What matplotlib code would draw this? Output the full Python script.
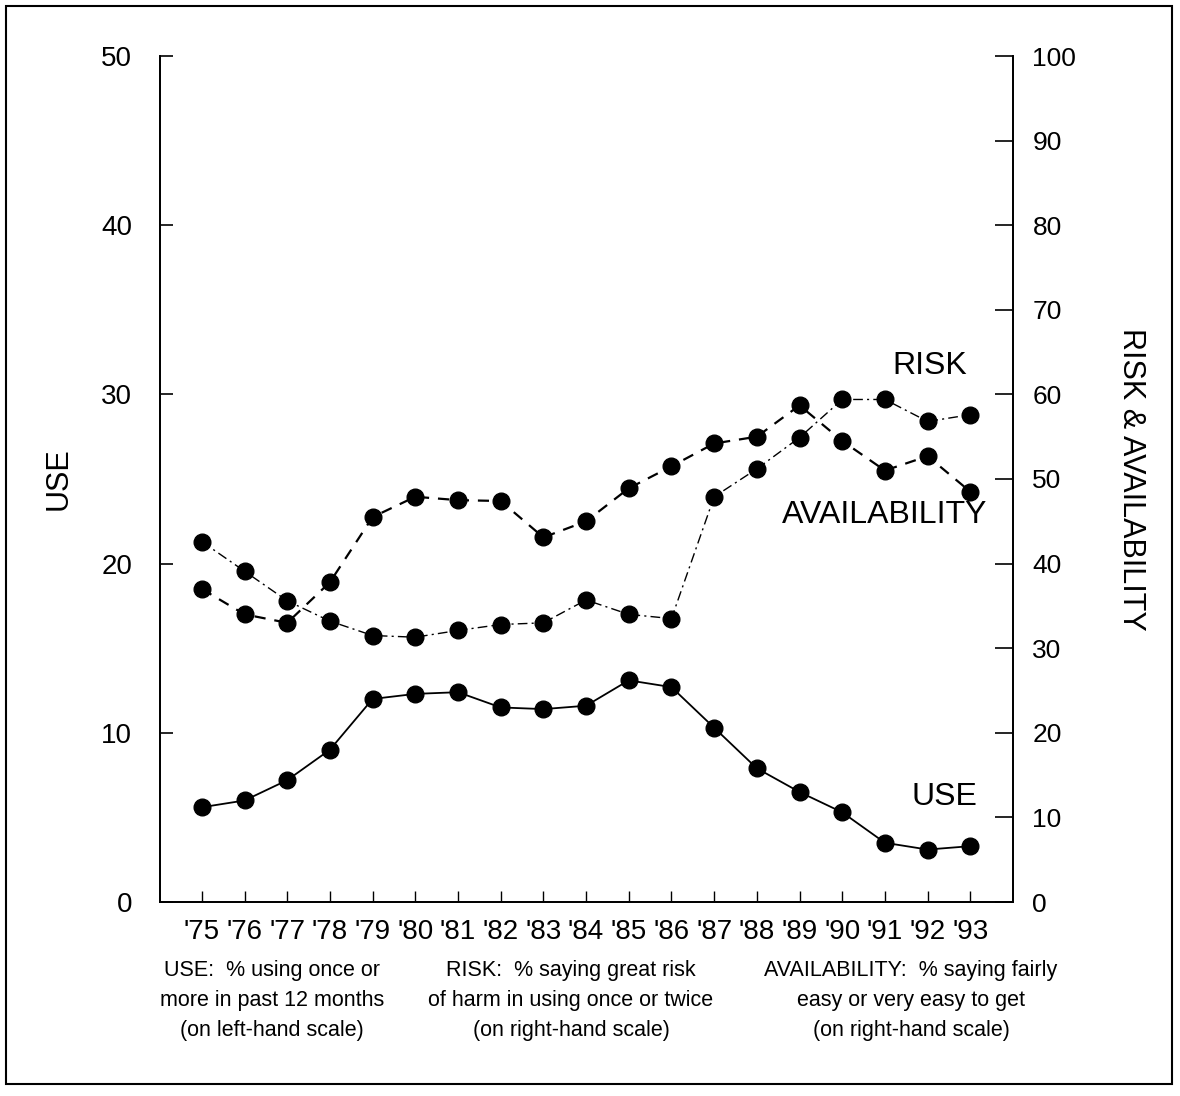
import matplotlib.pyplot as plt
from matplotlib.patches import Rectangle

plt.rcParams['font.family'] = ['Liberation Sans', 'DejaVu Sans']

# Data
years = list(range(1975, 1994))
year_labels = ["'75", "'76", "'77", "'78", "'79", "'80", "'81", "'82", "'83", "'84",
               "'85", "'86", "'87", "'88", "'89", "'90", "'91", "'92", "'93"]
use = [5.6, 6.0, 7.2, 9.0, 12.0, 12.3, 12.4, 11.5, 11.4, 11.6,
       13.1, 12.7, 10.3, 7.9, 6.5, 5.3, 3.5, 3.1, 3.3]
risk = [42.6, 39.1, 35.6, 33.2, 31.5, 31.3, 32.1, 32.8, 33.0, 35.7,
        34.0, 33.5, 47.9, 51.2, 54.9, 59.4, 59.4, 56.8, 57.6]
availability = [37.0, 34.0, 33.0, 37.8, 45.5, 47.9, 47.5, 47.4, 43.1, 45.0,
                48.9, 51.5, 54.2, 55.0, 58.7, 54.5, 51.0, 52.7, 48.5]

fig = plt.figure(figsize=(11.8, 10.96), dpi=100)
ax = fig.add_axes([160 / 1180, 1 - 902 / 1096, (1013 - 160) / 1180, (902 - 56) / 1096])
ax2 = ax.twinx()

# left scale: use
ax.plot(years, use, '-', color='black', lw=1.3, marker='o', ms=12)
# right scale: risk and availability
ax2.plot(years, risk, color='black', lw=1.0, ls=(0, (7, 3, 1.5, 3)), marker='o', ms=12)
ax2.plot(years, availability, color='black', lw=1.6, ls=(0, (5, 4)), marker='o', ms=12)

ax.set_xlim(1974.02, 1994.0)
ax.set_ylim(0, 50)
ax2.set_ylim(0, 100)
ax.set_xticks(years)
ax.set_xticklabels(year_labels, fontsize=20)
ax.set_yticks(range(0, 51, 10))
ax2.set_yticks(range(0, 101, 10))

ax.tick_params(axis='y', direction='in', length=9, width=1.2, labelsize=20, pad=20)
ax.tick_params(axis='x', direction='in', length=8, width=1.0, pad=12)
ax2.tick_params(axis='y', direction='in', length=13, width=1.2, labelsize=19, pad=14)

for a in (ax, ax2):
    a.spines['top'].set_visible(False)
    for s in ('left', 'right', 'bottom'):
        a.spines[s].set_linewidth(1.3)

ax.set_ylabel('USE', fontsize=22, labelpad=20)
ax2.set_ylabel('RISK & AVAILABILITY', fontsize=22, rotation=270, labelpad=50)

# series labels
ax2.text(1992.05, 63.4, 'RISK', fontsize=23, ha='center', va='center')
ax2.text(1991.0, 45.7, 'AVAILABILITY', fontsize=23, ha='center', va='center')
ax.text(1992.4, 6.2, 'USE', fontsize=23, ha='center', va='center')

# captions under the x axis
captions = [
    (272, 'USE:  % using once or\nmore in past 12 months\n(on left-hand scale)'),
    (571, 'RISK:  % saying great risk\nof harm in using once or twice\n(on right-hand scale)'),
    (911, 'AVAILABILITY:  % saying fairly\neasy or very easy to get\n(on right-hand scale)'),
]
for xc, txt in captions:
    fig.text(xc / 1180, 1 - 960 / 1096, txt, fontsize=15.5, ha='center', va='top',
             linespacing=1.55)

# outer frame
fig.patches.append(Rectangle((6 / 1180, 1 - 1084 / 1096), 1166 / 1180, 1078 / 1096,
                             transform=fig.transFigure, fill=False, lw=1.5, color='black'))

fig.savefig('out.png', dpi=100)
